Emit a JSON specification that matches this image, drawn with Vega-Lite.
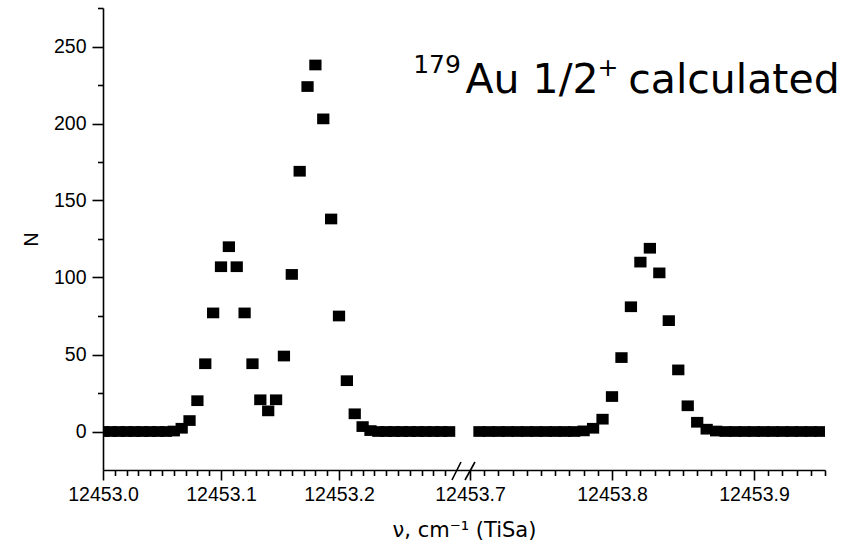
{
  "$schema": "https://vega.github.io/schema/vega-lite/v6.json",
  "width": 722,
  "height": 462,
  "autosize": {"type": "none"},
  "padding": {"left": 103, "top": 8, "right": 27, "bottom": 76},
  "background": "white",
  "config": {
    "view": {"stroke": null},
    "axis": {
      "grid": false,
      "domainColor": "#000",
      "domainWidth": 1.6,
      "tickColor": "#000",
      "tickWidth": 1.6,
      "labelFont": "Liberation Sans",
      "labelFontSize": 19.5,
      "labelColor": "#000",
      "titleFont": "Liberation Sans",
      "titleFontSize": 19.5,
      "titleFontWeight": "normal",
      "titleColor": "#000"
    }
  },
  "datasets": {
    "counts": [
      {"nu": 12453.00000, "N": 0}, {"nu": 12453.00667, "N": 0}, {"nu": 12453.01333, "N": 0},
      {"nu": 12453.02000, "N": 0}, {"nu": 12453.02667, "N": 0}, {"nu": 12453.03333, "N": 0},
      {"nu": 12453.04000, "N": 0}, {"nu": 12453.04667, "N": 0}, {"nu": 12453.05333, "N": 0},
      {"nu": 12453.06000, "N": 0.3}, {"nu": 12453.06667, "N": 2.1}, {"nu": 12453.07333, "N": 7.1},
      {"nu": 12453.08000, "N": 20}, {"nu": 12453.08667, "N": 44}, {"nu": 12453.09333, "N": 77},
      {"nu": 12453.10000, "N": 107}, {"nu": 12453.10667, "N": 120}, {"nu": 12453.11333, "N": 107},
      {"nu": 12453.12000, "N": 77}, {"nu": 12453.12667, "N": 44}, {"nu": 12453.13333, "N": 20.6},
      {"nu": 12453.14000, "N": 13.4}, {"nu": 12453.14667, "N": 20.6}, {"nu": 12453.15333, "N": 49},
      {"nu": 12453.16000, "N": 102}, {"nu": 12453.16667, "N": 169}, {"nu": 12453.17333, "N": 224},
      {"nu": 12453.18000, "N": 238}, {"nu": 12453.18667, "N": 203}, {"nu": 12453.19333, "N": 138},
      {"nu": 12453.20000, "N": 75}, {"nu": 12453.20667, "N": 33}, {"nu": 12453.21333, "N": 11.5},
      {"nu": 12453.22000, "N": 3.2}, {"nu": 12453.22667, "N": 0.6}, {"nu": 12453.23333, "N": 0},
      {"nu": 12453.24000, "N": 0}, {"nu": 12453.24667, "N": 0}, {"nu": 12453.25333, "N": 0},
      {"nu": 12453.26000, "N": 0}, {"nu": 12453.26667, "N": 0}, {"nu": 12453.27333, "N": 0},
      {"nu": 12453.28000, "N": 0}, {"nu": 12453.28667, "N": 0}, {"nu": 12453.29333, "N": 0},
      {"nu": 12453.70667, "N": 0}, {"nu": 12453.71333, "N": 0}, {"nu": 12453.72000, "N": 0},
      {"nu": 12453.72667, "N": 0}, {"nu": 12453.73333, "N": 0}, {"nu": 12453.74000, "N": 0},
      {"nu": 12453.74667, "N": 0}, {"nu": 12453.75333, "N": 0}, {"nu": 12453.76000, "N": 0},
      {"nu": 12453.76667, "N": 0}, {"nu": 12453.77333, "N": 0}, {"nu": 12453.78000, "N": 0.4},
      {"nu": 12453.78667, "N": 2.1}, {"nu": 12453.79333, "N": 8}, {"nu": 12453.80000, "N": 22.7},
      {"nu": 12453.80667, "N": 48}, {"nu": 12453.81333, "N": 81}, {"nu": 12453.82000, "N": 110},
      {"nu": 12453.82667, "N": 119}, {"nu": 12453.83333, "N": 103}, {"nu": 12453.84000, "N": 72},
      {"nu": 12453.84667, "N": 40}, {"nu": 12453.85333, "N": 16.7}, {"nu": 12453.86000, "N": 6},
      {"nu": 12453.86667, "N": 1.5}, {"nu": 12453.87333, "N": 0.3}, {"nu": 12453.88000, "N": 0},
      {"nu": 12453.88667, "N": 0}, {"nu": 12453.89333, "N": 0}, {"nu": 12453.90000, "N": 0},
      {"nu": 12453.90667, "N": 0}, {"nu": 12453.91333, "N": 0}, {"nu": 12453.92000, "N": 0},
      {"nu": 12453.92667, "N": 0}, {"nu": 12453.93333, "N": 0}, {"nu": 12453.94000, "N": 0},
      {"nu": 12453.94667, "N": 0}
    ],
    "axis_break": [
      {"nu": 12453.29576, "nu_end": 12453.4231, "N": -31.5, "N_end": -19.8},
      {"nu": 12453.5462, "nu_end": 12453.7035, "N": -31.5, "N_end": -19.8}
    ],
    "label_main": [
      {"nu": 12453.7437, "N": 219.6, "text": "Au 1/2"},
      {"nu": 12453.8859, "N": 219.6, "text": "calculated"}
    ],
    "label_sup": [
      {"nu": 12453.2831, "N": 232.5, "text": "179"},
      {"nu": 12453.7972, "N": 231, "text": "+"}
    ]
  },
  "resolve": {"axis": {"x": "independent", "y": "independent"}},
  "layer": [
    {
      "data": {"name": "counts"},
      "mark": {
        "type": "point",
        "shape": "M-1,-0.875H1V0.875H-1Z",
        "filled": true,
        "fill": "#000",
        "fillOpacity": 1,
        "opacity": 1,
        "stroke": null,
        "strokeWidth": 0,
        "size": 150,
        "clip": true
      },
      "encoding": {
        "x": {
          "field": "nu",
          "type": "quantitative",
          "scale": {"domain": [12453.0, 12453.3, 12453.7, 12453.95], "range": [0, 354, 367, 722], "zero": false, "nice": false},
          "axis": {
            "orient": "bottom",
            "values": [12453.0, 12453.1, 12453.2, 12453.7, 12453.8, 12453.9],
            "format": ".1f",
            "tickSize": 10,
            "labelPadding": 5,
            "labelFlush": false,
            "labelOverlap": false,
            "title": "ν, cm⁻¹ (TiSa)",
            "titleFont": "DejaVu Sans",
            "titleFontSize": 21,
            "titlePadding": 16
          }
        },
        "y": {
          "field": "N",
          "type": "quantitative",
          "scale": {"domain": [-25, 275], "zero": false, "nice": false},
          "axis": {
            "orient": "left",
            "values": [0, 50, 100, 150, 200, 250],
            "format": "d",
            "tickSize": 11,
            "labelPadding": 6,
            "labelFlush": false,
            "labelOverlap": false,
            "title": "N",
            "titlePadding": 12
          }
        }
      }
    },
    {
      "data": {"name": "axis_break"},
      "mark": {"type": "rule", "color": "#000", "strokeWidth": 1.6},
      "encoding": {
        "x": {
          "field": "nu",
          "type": "quantitative",
          "scale": {"domain": [12453.0, 12453.3, 12453.7, 12453.95], "range": [0, 354, 367, 722], "zero": false, "nice": false},
          "axis": {
            "orient": "bottom",
            "values": [12453.01, 12453.02, 12453.03, 12453.04, 12453.05, 12453.06, 12453.07, 12453.08, 12453.09,
                       12453.11, 12453.12, 12453.13, 12453.14, 12453.15, 12453.16, 12453.17, 12453.18, 12453.19,
                       12453.21, 12453.22, 12453.23, 12453.24, 12453.25, 12453.26, 12453.27, 12453.28, 12453.29,
                       12453.71, 12453.72, 12453.73, 12453.74, 12453.75, 12453.76, 12453.77, 12453.78, 12453.79,
                       12453.81, 12453.82, 12453.83, 12453.84, 12453.85, 12453.86, 12453.87, 12453.88, 12453.89,
                       12453.91, 12453.92, 12453.93, 12453.94, 12453.95],
            "tickSize": 5.5,
            "labels": false,
            "domain": false,
            "title": null
          }
        },
        "x2": {"field": "nu_end"},
        "y": {
          "field": "N",
          "type": "quantitative",
          "scale": {"domain": [-25, 275], "zero": false, "nice": false},
          "axis": {
            "orient": "left",
            "values": [25, 75, 125, 175, 225, 275],
            "tickSize": 5.5,
            "labels": false,
            "domain": false,
            "title": null
          }
        },
        "y2": {"field": "N_end"}
      }
    },
    {
      "data": {"name": "label_main"},
      "mark": {"type": "text", "font": "DejaVu Sans", "fontSize": 41, "align": "center", "baseline": "alphabetic", "color": "#000"},
      "encoding": {
        "x": {"field": "nu", "type": "quantitative", "axis": null,
              "scale": {"domain": [12453.0, 12453.3, 12453.7, 12453.95], "range": [0, 354, 367, 722], "zero": false, "nice": false}},
        "y": {"field": "N", "type": "quantitative", "axis": null,
              "scale": {"domain": [-25, 275], "zero": false, "nice": false}},
        "text": {"field": "text"}
      }
    },
    {
      "data": {"name": "label_sup"},
      "mark": {"type": "text", "font": "DejaVu Sans", "fontSize": 25, "align": "center", "baseline": "alphabetic", "color": "#000"},
      "encoding": {
        "x": {"field": "nu", "type": "quantitative", "axis": null,
              "scale": {"domain": [12453.0, 12453.3, 12453.7, 12453.95], "range": [0, 354, 367, 722], "zero": false, "nice": false}},
        "y": {"field": "N", "type": "quantitative", "axis": null,
              "scale": {"domain": [-25, 275], "zero": false, "nice": false}},
        "text": {"field": "text"}
      }
    }
  ]
}
